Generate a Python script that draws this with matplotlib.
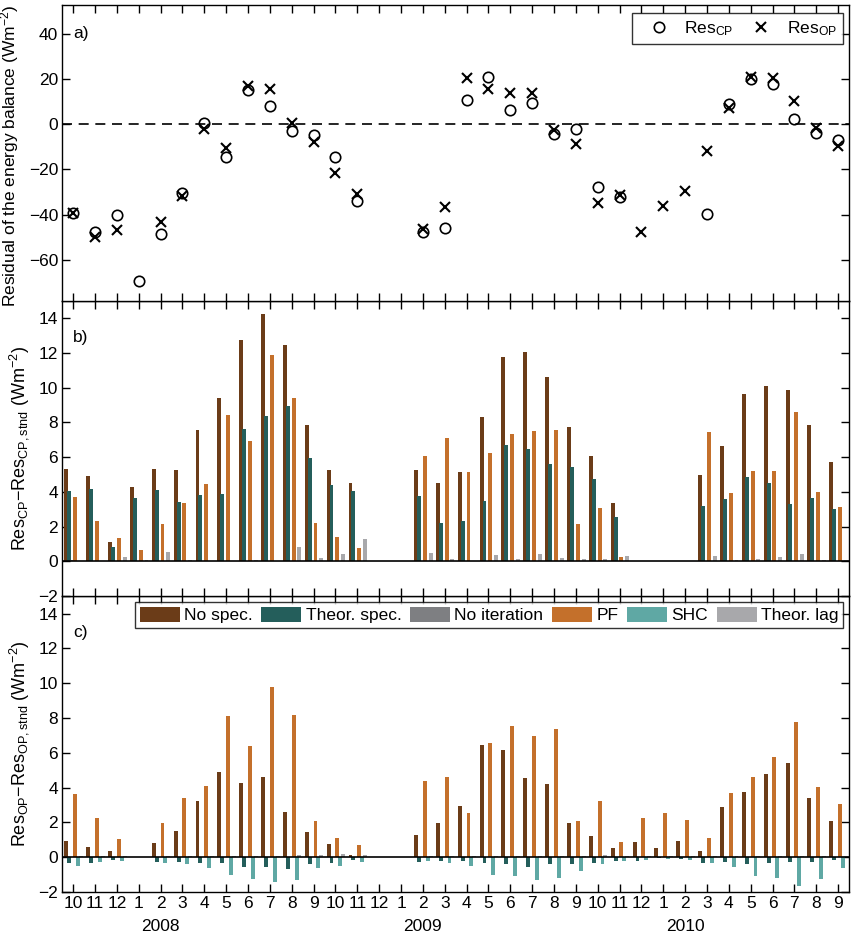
import numpy as np
import matplotlib
matplotlib.use("Agg")
import matplotlib.pyplot as plt
from matplotlib.patches import Patch
from matplotlib.lines import Line2D

plt.rcParams['font.family'] = ['Liberation Sans', 'DejaVu Sans']
plt.rcParams['mathtext.fontset'] = 'custom'
plt.rcParams['mathtext.rm'] = 'Liberation Sans'
plt.rcParams['mathtext.it'] = 'Liberation Sans:italic'
plt.rcParams['mathtext.bf'] = 'Liberation Sans:bold'

nan = np.nan
# Months Oct 2007 .. Sep 2010
month_labels = ['10', '11', '12', '1', '2', '3', '4', '5', '6', '7', '8', '9',
                '10', '11', '12', '1', '2', '3', '4', '5', '6', '7', '8', '9',
                '10', '11', '12', '1', '2', '3', '4', '5', '6', '7', '8', '9']
year_labels = ['2008', '2009', '2010']
year_months = [5, 17, 29]

# Panel a
res_cp = [-39.4, -47.6, -40.3, -69.5, -48.7, -30.4, 0.7, -14.5, 15.0, 8.1, -3.0, -4.9,
          -14.5, -34.2, nan, nan, -47.6, -46.1, 10.5, 20.7, 6.2, 9.5, -4.3, -2.2,
          -28.0, -32.1, nan, nan, nan, -39.9, 8.7, 20.0, 17.6, 2.4, -4.0, -7.0]
res_op = [-39.4, -49.9, -47.0, nan, -43.3, -32.0, -2.1, -10.4, 16.7, 15.6, 0.3, -8.0,
          -21.6, -31.0, nan, nan, -46.2, -36.6, 20.3, 15.3, 13.9, 13.8, -2.8, -9.0,
          -34.7, -31.3, -47.6, -36.1, -29.5, -12.1, 7.3, 20.6, 20.4, 10.2, -1.8, -9.9]

# Panel b (CP)
no_spec_cp = [5.29, 4.94, 1.12, 4.29, 5.29, 5.25, 7.56, 9.37, 12.75, 14.2, 12.46, 7.87,
              5.27, 4.52, 0, 0, 5.27, 4.5, 5.15, 8.33, 11.73, 12.04, 10.58, 7.75,
              6.04, 3.35, 0, 0, 0, 5.0, 6.62, 9.65, 10.06, 9.85, 7.87, 5.71]
theor_spec_cp = [4.04, 4.17, 0.83, 3.65, 4.12, 3.44, 3.83, 3.88, 7.63, 8.38, 8.95, 5.96,
                 4.40, 4.06, 0, 0, 3.79, 2.23, 2.31, 3.5, 6.67, 6.48, 5.63, 5.42,
                 4.73, 2.58, 0, 0, 0, 3.19, 3.6, 4.88, 4.54, 3.31, 3.63, 3.02]
no_iter_cp = [0.1, 0.05, 0.05, 0.05, 0.05, 0.05, 0.05, 0.05, 0.05, 0.05, 0.05, 0.05,
              0.05, 0.05, 0, 0, 0.05, 0.05, 0.05, 0.05, 0.05, 0.05, 0.05, 0.05,
              0.05, 0.05, 0, 0, 0, 0.05, 0.05, 0.05, 0.05, 0.05, 0.05, 0.05]
pf_cp = [3.71, 2.31, 1.35, 0.67, 2.15, 3.35, 4.48, 8.42, 6.9, 11.85, 9.37, 2.23,
         1.40, 0.79, 0, 0, 6.06, 7.12, 5.15, 6.21, 7.35, 7.48, 7.54, 2.15,
         3.08, 0.25, 0, 0, 0, 7.46, 3.92, 5.21, 5.23, 8.62, 4.0, 3.13]
shc_cp = [0.03, 0.03, 0.03, 0.03, 0.03, 0.03, 0.03, 0.03, 0.03, 0.03, 0.03, 0.03,
          0.03, 0.03, 0, 0, 0.03, 0.03, 0.03, 0.03, 0.03, 0.03, 0.03, 0.03,
          0.03, 0.03, 0, 0, 0, 0.03, 0.03, 0.03, 0.03, 0.03, 0.03, 0.03]
lag_cp = [0.05, 0.05, 0.25, 0.1, 0.54, 0.08, 0.05, 0.05, 0.1, 0.05, 0.83, 0.21,
          0.42, 1.27, 0, 0, 0.46, 0.15, 0.05, 0.4, 0.17, 0.44, 0.21, 0.15,
          0.13, 0.33, 0, 0, 0, 0.31, 0.1, 0.13, 0.23, 0.44, 0.1, 0.1]

# Panel c (OP)
no_spec_op = [0.92, 0.61, 0.38, 0, 0.81, 1.48, 3.21, 4.88, 4.24, 4.61, 2.59, 1.44,
              0.73, 0.15, 0, 0, 1.27, 1.98, 2.94, 6.45, 6.18, 4.57, 4.19, 1.94,
              1.23, 0.52, 0.88, 0.52, 0.92, 0.33, 2.9, 3.73, 4.78, 5.4, 3.38, 2.09]
theor_spec_op = [-0.31, -0.31, -0.17, 0, -0.25, -0.25, -0.31, -0.33, -0.58, -0.58, -0.67, -0.42,
                 -0.35, -0.19, 0, 0, -0.27, -0.23, -0.23, -0.31, -0.42, -0.56, -0.38, -0.38,
                 -0.31, -0.21, -0.23, -0.05, -0.13, -0.33, -0.29, -0.38, -0.36, -0.29, -0.29, -0.17]
no_iter_op = [0.03, 0.03, 0.03, 0, 0.03, 0.03, 0.03, 0.03, 0.03, 0.03, 0.03, 0.03,
              0.03, 0.03, 0, 0, 0.03, 0.03, 0.03, 0.03, 0.03, 0.03, 0.03, 0.03,
              0.03, 0.03, 0.03, 0.03, 0.03, 0.03, 0.03, 0.03, 0.03, 0.03, 0.03, 0.03]
pf_op = [3.65, 2.23, 1.04, 0, 1.96, 3.42, 4.07, 8.12, 6.4, 9.8, 8.18, 2.09,
         1.09, 0.71, 0, 0, 4.4, 4.63, 2.55, 6.57, 7.53, 6.95, 7.36, 2.07,
         3.23, 0.86, 2.23, 2.55, 2.13, 1.13, 3.67, 4.63, 5.74, 7.76, 4.03, 3.07]
shc_op = [-0.5, -0.25, -0.21, 0, -0.31, -0.38, -0.6, -1.0, -1.27, -1.44, -1.3, -0.65,
          -0.48, -0.27, 0, 0, -0.21, -0.33, -0.52, -1.0, -1.08, -1.34, -1.17, -0.77,
          -0.38, -0.21, -0.19, -0.1, -0.19, -0.36, -0.56, -1.08, -1.19, -1.65, -1.23, -0.6]
lag_op = [0.05, 0.05, 0.05, 0, 0.05, 0.05, 0.05, 0.05, 0.05, 0.05, 0.1, 0.1,
          0.19, 0.1, 0, 0, 0.05, 0.05, 0.05, 0.05, 0.05, 0.05, 0.05, 0.05,
          0.1, 0.05, 0.05, 0.05, 0.05, 0.05, 0.05, 0.05, 0.05, 0.05, 0.05, 0.05]

series_names = ['No spec.', 'Theor. spec.', 'No iteration', 'PF', 'SHC', 'Theor. lag']
colors = ['#6B3C18', '#245E5B', '#7E7F82', '#C4702B', '#5FA8A4', '#A8A8AB']

x = np.arange(1, len(month_labels) + 1)

fig = plt.figure(figsize=(8.52, 9.34), dpi=100)
L, W = 0.0731, 0.9234
H = 0.3166
ax_c = fig.add_axes([L, 0.045, W, H])
ax_b = fig.add_axes([L, 0.045 + H, W, H])
ax_a = fig.add_axes([L, 0.045 + 2 * H, W, H])

FS = 12.5
YFS = 13

def style(ax):
    ax.set_xlim(0.5, 36.5)
    ax.set_xticks(x)
    ax.tick_params(axis='both', direction='in', length=6, width=1.0,
                   top=True, right=True, labelsize=FS, pad=3)
    for s in ax.spines.values():
        s.set_linewidth(1.0)

# Panel a
style(ax_a)
ax_a.axhline(0, color='black', linestyle=(0, (6, 4)), linewidth=1.2, zorder=1)
ax_a.plot(x, res_cp, linestyle='none', marker='o', markersize=7.5, markerfacecolor='none',
          markeredgecolor='black', markeredgewidth=1.2, zorder=3)
ax_a.plot(x, res_op, linestyle='none', marker='x', markersize=6.5,
          color='black', markeredgewidth=1.5, zorder=3)
ax_a.set_ylim(-78, 52.7)
ax_a.set_yticks([-60, -40, -20, 0, 20, 40])
ax_a.set_xticklabels([])
ax_a.set_ylabel('Residual of the energy balance (Wm$^{-2}$)', fontsize=12.5)
ax_a.yaxis.set_label_coords(-0.052, 0.49)
ax_a.text(0.0136, 0.904, 'a)', transform=ax_a.transAxes, fontsize=FS, ha='left', va='center')
handles_a = [Line2D([], [], linestyle='none', marker='o', markersize=7.5, markerfacecolor='none',
                    markeredgecolor='black', markeredgewidth=1.2),
             Line2D([], [], linestyle='none', marker='x', markersize=6.5, color='black',
                    markeredgewidth=1.5)]
leg_a = ax_a.legend(handles_a, ['Res$_{\\mathrm{CP}}$', 'Res$_{\\mathrm{OP}}$'], ncol=2,
                    loc='upper right', bbox_to_anchor=(0.992, 0.973), borderaxespad=0,
                    fontsize=FS, frameon=True, fancybox=False, edgecolor='black',
                    handlelength=2.4, columnspacing=0.4, handletextpad=0.25, borderpad=0.35)
leg_a.get_frame().set_linewidth(1.0)

# Bars (MATLAB-like grouped bars: slightly overlapping)
spacing = 0.133
bw = 0.18
shift = 0.02

def bars(ax, data):
    for k, (vals, col) in enumerate(zip(data, colors)):
        ax.bar(x + (k - 2.5) * spacing + shift, vals, width=bw, color=col,
               linewidth=0, zorder=2)
    ax.axhline(0, color='black', linewidth=1.2, zorder=3)
    ax.set_ylim(-2, 15)
    ax.set_yticks(np.arange(-2, 15, 2))

style(ax_b)
bars(ax_b, [no_spec_cp, theor_spec_cp, no_iter_cp, pf_cp, shc_cp, lag_cp])
ax_b.set_xticklabels([])
ax_b.set_ylabel('Res$_{\\mathrm{CP}}$\u2212Res$_{\\mathrm{CP,stnd}}$ (Wm$^{-2}$)', fontsize=YFS)
ax_b.yaxis.set_label_coords(-0.04, 0.5)
ax_b.text(0.0136, 0.876, 'b)', transform=ax_b.transAxes, fontsize=FS, ha='left', va='center')

style(ax_c)
bars(ax_c, [no_spec_op, theor_spec_op, no_iter_op, pf_op, shc_op, lag_op])
ax_c.set_xticklabels(month_labels)
ax_c.set_ylabel('Res$_{\\mathrm{OP}}$\u2212Res$_{\\mathrm{OP,stnd}}$ (Wm$^{-2}$)', fontsize=YFS)
ax_c.yaxis.set_label_coords(-0.04, 0.5)
ax_c.text(0.0136, 0.878, 'c)', transform=ax_c.transAxes, fontsize=FS, ha='left', va='center')
for yl, ym in zip(year_labels, year_months):
    ax_c.text(ym, -0.118, yl, transform=ax_c.get_xaxis_transform(), fontsize=FS,
              ha='center', va='center')
handles_c = [Patch(facecolor=c, edgecolor='none') for c in colors]
leg_c = ax_c.legend(handles_c, series_names, ncol=6, loc='upper right',
                    bbox_to_anchor=(0.992, 0.98), borderaxespad=0, fontsize=FS,
                    frameon=True, fancybox=False, edgecolor='black',
                    handlelength=2.3, handleheight=1.0, columnspacing=0.5,
                    handletextpad=0.25, borderpad=0.25)
leg_c.get_frame().set_linewidth(1.0)

fig.savefig('out.png', dpi=100)
